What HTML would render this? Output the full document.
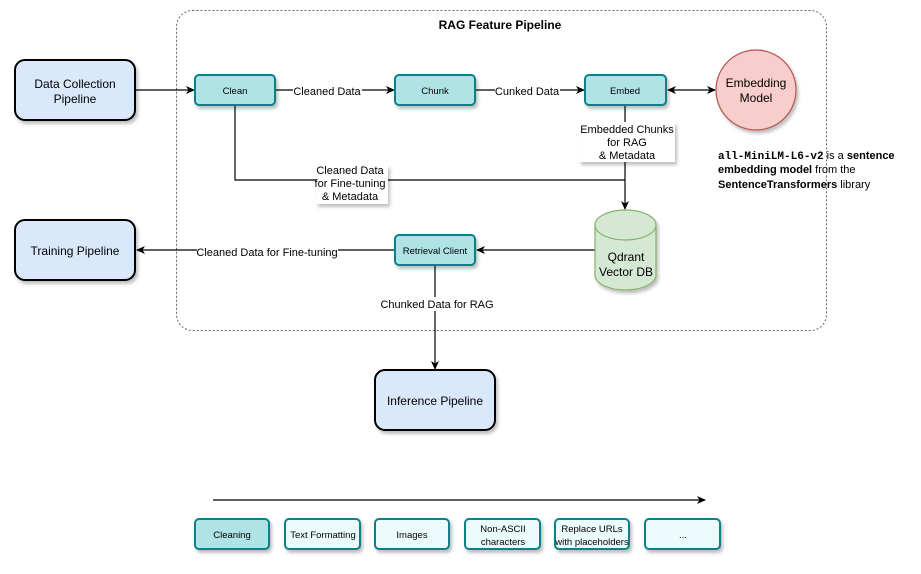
<!DOCTYPE html>
<html><head><meta charset="utf-8"><style>
html,body{margin:0;padding:0;background:#fff;}
svg{display:block;font-family:"Liberation Sans",Arial,sans-serif;}
</style></head><body>
<svg width="921" height="574" viewBox="0 0 921 574" xmlns="http://www.w3.org/2000/svg">
<defs>
<marker id="a" markerWidth="10" markerHeight="10" refX="8" refY="5" orient="auto" markerUnits="userSpaceOnUse">
<path d="M0,1 L9,5 L0,9 L2.5,5 Z" fill="#000"/></marker>
<marker id="as" markerWidth="10" markerHeight="10" refX="2" refY="5" orient="auto" markerUnits="userSpaceOnUse">
<path d="M10,1 L1,5 L10,9 L7.5,5 Z" fill="#000"/></marker>
<filter id="sh" x="-10%" y="-10%" width="130%" height="140%"><feDropShadow dx="2" dy="3" stdDeviation="1.5" flood-color="#000" flood-opacity="0.25"/></filter>
</defs>

<rect x="176.5" y="10.5" width="650" height="320" rx="16" fill="none" stroke="#666" stroke-width="1" stroke-dasharray="2,2"/>
<text x="500" y="29" font-size="12" font-weight="bold" text-anchor="middle">RAG Feature Pipeline</text>

<g stroke="#000" stroke-width="1.2" fill="none">
<line x1="135" y1="90" x2="194" y2="90" marker-end="url(#a)"/>
<line x1="275" y1="90" x2="394" y2="90" marker-end="url(#a)"/>
<line x1="475" y1="90" x2="584" y2="90" marker-end="url(#a)"/>
<line x1="668" y1="90" x2="715" y2="90" marker-start="url(#as)" marker-end="url(#a)"/>
<polyline points="235,105 235,180 625,180"/>
<line x1="625" y1="105" x2="625" y2="209" marker-end="url(#a)"/>
<line x1="595" y1="250" x2="477" y2="250" marker-end="url(#a)"/>
<line x1="395" y1="250" x2="137" y2="250" marker-end="url(#a)"/>
<line x1="435" y1="265" x2="435" y2="369" marker-end="url(#a)"/>
<line x1="213" y1="500" x2="705" y2="500" marker-end="url(#a)"/>
</g>

<g font-size="11" text-anchor="middle" fill="#000">
<rect x="293" y="84" width="69" height="14" fill="#fff"/>
<text x="327" y="95">Cleaned Data</text>
<rect x="495" y="84" width="65" height="14" fill="#fff"/>
<text x="527" y="95">Cunked Data</text>
<rect x="579" y="122" width="96" height="40" fill="#fff" filter="url(#sh)"/>
<text x="627" y="133">Embedded Chunks</text>
<text x="627" y="146">for RAG</text>
<text x="627" y="159">&amp; Metadata</text>
<rect x="316" y="165" width="72" height="39" fill="#fff" filter="url(#sh)"/>
<text x="350" y="174">Cleaned Data</text>
<text x="350" y="187">for Fine-tuning</text>
<text x="350" y="200">&amp; Metadata</text>
<rect x="197" y="244" width="141" height="14" fill="#fff"/>
<text x="267" y="256">Cleaned Data for Fine-tuning</text>
<rect x="380" y="297" width="114" height="14" fill="#fff"/>
<text x="437" y="308">Chunked Data for RAG</text>
</g>

<g filter="url(#sh)" stroke="#000" stroke-width="2" fill="#dae8fc">
<rect x="15" y="60" width="120" height="60" rx="10"/>
<rect x="15" y="220" width="120" height="60" rx="10"/>
<rect x="375" y="370" width="120" height="60" rx="10"/>
</g>
<g font-size="12" text-anchor="middle">
<text x="75" y="88">Data Collection</text>
<text x="75" y="103">Pipeline</text>
<text x="75" y="255">Training Pipeline</text>
<text x="435" y="405">Inference Pipeline</text>
</g>

<g filter="url(#sh)" stroke="#0e8088" stroke-width="2" fill="#b0e3e6">
<rect x="195" y="75" width="80" height="30" rx="4"/>
<rect x="395" y="75" width="80" height="30" rx="4"/>
<rect x="585" y="75" width="81" height="30" rx="4"/>
<rect x="395" y="235" width="80" height="30" rx="4"/>
</g>
<g font-size="9.5" text-anchor="middle">
<text x="235" y="94">Clean</text>
<text x="435" y="94">Chunk</text>
<text x="625" y="94">Embed</text>
<text x="435" y="254">Retrieval Client</text>
</g>

<circle cx="756" cy="90" r="40" fill="#f8cecc" stroke="#b85450" stroke-width="1.2" filter="url(#sh)"/>
<text x="756" y="87" font-size="12" text-anchor="middle">Embedding</text>
<text x="756" y="102" font-size="12" text-anchor="middle">Model</text>

<g filter="url(#sh)">
<path d="M595,225 A30.5,15 0 0 1 656,225 L656,275 A30.5,15 0 0 1 595,275 Z" fill="#d5e8d4" stroke="#82b366" stroke-width="1.2"/>
<path d="M595,225 A30.5,15 0 0 0 656,225" fill="none" stroke="#82b366" stroke-width="1.2"/>
</g>
<text x="626" y="261" font-size="12" text-anchor="middle">Qdrant</text>
<text x="626" y="276" font-size="12" text-anchor="middle">Vector DB</text>

<g font-size="11">
<text x="718" y="159"><tspan font-family="Liberation Mono,monospace" font-weight="bold">all-MiniLM-L6-v2</tspan> is a <tspan font-weight="bold">sentence</tspan></text>
<text x="718" y="173"><tspan font-weight="bold">embedding model</tspan> from the</text>
<text x="718" y="188"><tspan font-weight="bold">SentenceTransformers</tspan> library</text>
</g>

<g filter="url(#sh)" stroke="#0e8088" stroke-width="2">
<rect x="195" y="519" width="74" height="30" rx="4" fill="#b0e3e6"/>
<rect x="285" y="519" width="75" height="30" rx="4" fill="#ecfbfc"/>
<rect x="375" y="519" width="74" height="30" rx="4" fill="#ecfbfc"/>
<rect x="465" y="519" width="75" height="30" rx="4" fill="#ecfbfc"/>
<rect x="555" y="519" width="74" height="30" rx="4" fill="#ecfbfc"/>
<rect x="645" y="519" width="75" height="30" rx="4" fill="#ecfbfc"/>
</g>
<g font-size="9.5" text-anchor="middle">
<text x="232" y="538">Cleaning</text>
<text x="323" y="538">Text Formatting</text>
<text x="412" y="538">Images</text>
<text x="503" y="532">Non-ASCII</text>
<text x="503" y="545">characters</text>
<text x="592" y="532">Replace URLs</text>
<text x="592" y="545">with placeholders</text>
<text x="683" y="538">...</text>
</g>
</svg>
</body></html>
